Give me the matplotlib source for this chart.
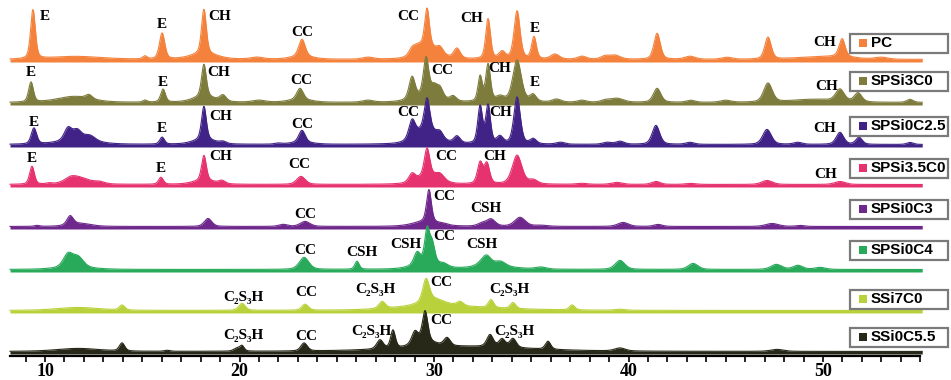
"""Stacked XRD patterns of the cement pastes with phase markers."""

import matplotlib

matplotlib.use("Agg")
import matplotlib.pyplot as plt  # noqa: E402
import numpy as np  # noqa: E402
from matplotlib.patches import Rectangle  # noqa: E402
from matplotlib.ticker import FixedLocator  # noqa: E402

# sample names, top to bottom
SAMPLES = ["PC", "SPSi3C0", "SPSi0C2.5", "SPSi3.5C0", "SPSi0C3", "SPSi0C4", "SSi7C0", "SSi0C5.5"]
COLORS = ["#F5823C", "#7D7C3C", "#412387", "#E6326E", "#6E288C", "#28AA5A", "#B9D23C", "#282819"]

# reflections per sample: (2theta, net intensity, FWHM)
PEAKS_PC = [
    (9.38, 49, 0.22), (11.6, 3, 2.4), (15.14, 3, 0.2), (16.02, 26, 0.25),
    (18.17, 44, 0.22), (18.17, 6, 1.2), (20.9, 2, 0.6), (23.21, 17, 0.3), (23.2, 3, 1.0),
    (26.6, 2, 0.5), (28.87, 6, 0.3), (29.18, 6, 0.4), (29.64, 38, 0.22), (29.7, 12, 1.0),
    (30.31, 6, 0.3), (31.18, 10, 0.3), (32.78, 40, 0.22), (33.5, 7, 0.3), (34.27, 48, 0.28),
    (35.14, 22, 0.22), (36.22, 5, 0.4), (37.61, 3, 0.4), (38.79, 3, 0.4), (39.3, 4, 0.5),
    (41.47, 26, 0.3), (43.16, 3, 0.5), (45.06, 2, 0.5), (47.17, 22, 0.3), (49.5, 2, 2.0),
    (50.98, 18, 0.28), (50.9, 2, 1.5), (53.0, 2, 0.6),
]
PEAKS_SPSI3C0 = [
    (9.28, 20, 0.22), (11.5, 6, 1.6), (12.26, 4, 0.3), (15.14, 2, 0.2), (16.07, 13, 0.22),
    (18.17, 32, 0.22), (18.17, 6, 1.0), (19.15, 6, 0.3), (21.0, 2, 0.6), (23.11, 11, 0.3),
    (23.1, 3, 1.0), (26.6, 2, 0.5), (28.87, 22, 0.28), (29.59, 38, 0.25), (29.6, 6, 1.2),
    (30.0, 10, 0.3), (30.31, 10, 0.3), (30.98, 5, 0.3), (32.37, 25, 0.2), (32.78, 37, 0.22),
    (33.4, 5, 0.4), (34.27, 42, 0.4), (35.09, 7, 0.3), (36.3, 3, 0.4), (37.6, 2, 0.4),
    (38.8, 2, 0.4), (39.4, 4, 0.6), (41.47, 14, 0.35), (43.2, 2, 0.4), (45.0, 2, 0.5),
    (47.17, 19, 0.4), (49.5, 3, 2.0), (50.87, 12, 0.4), (51.8, 9, 0.35), (54.47, 3, 0.3),
]
PEAKS_SPSI0C25 = [
    (9.43, 16, 0.25), (11.18, 12, 0.35), (11.65, 9, 0.4), (12.3, 5, 0.5), (11.7, 5, 1.6),
    (16.02, 7, 0.22), (18.17, 33, 0.22), (18.17, 5, 1.0), (19.15, 2, 0.3), (21.98, 1, 0.3),
    (23.21, 12, 0.3), (23.2, 2, 1.0), (28.87, 18, 0.3), (29.64, 30, 0.25), (29.6, 16, 1.0),
    (30.31, 6, 0.3), (31.18, 7, 0.3), (32.37, 37, 0.22), (32.78, 38, 0.22), (33.39, 7, 0.3),
    (34.27, 47, 0.3), (35.1, 5, 0.3), (36.5, 2, 0.4), (38.89, 2, 0.4), (39.56, 3, 0.4),
    (41.41, 19, 0.35), (43.16, 2, 0.4), (47.12, 15, 0.4), (48.7, 2, 0.4), (50.87, 12, 0.35),
    (51.85, 7, 0.3), (54.47, 2, 0.3),
]
PEAKS_SPSI35C0 = [
    (9.33, 18, 0.22), (10.21, 1, 0.25), (11.7, 7, 1.0), (11.3, 3, 0.5), (12.8, 2, 0.5),
    (15.96, 7, 0.22), (18.17, 25, 0.22), (18.17, 4, 1.0), (19.1, 3, 0.3), (23.16, 8, 0.4),
    (28.87, 8, 0.3), (29.64, 27, 0.25), (29.7, 9, 1.0), (30.31, 6, 0.4), (32.37, 21, 0.25),
    (32.72, 20, 0.25), (34.27, 29, 0.45), (35.1, 4, 0.4), (37.6, 1, 0.5), (39.4, 2, 0.5),
    (41.41, 3, 0.4), (43.2, 1, 0.5), (47.12, 4, 0.5), (50.87, 3, 0.5),
]
PEAKS_SPSI0C3 = [
    (9.59, 1, 0.25), (11.29, 9, 0.3), (11.8, 3, 1.0), (18.38, 8, 0.35), (22.24, 2, 0.4),
    (23.37, 5, 0.45), (29.74, 32, 0.22), (29.6, 5, 1.2), (30.5, 1, 0.4), (32.47, 3, 0.4),
    (32.93, 7, 0.4), (34.42, 9, 0.5), (35.5, 1, 0.6), (39.72, 4, 0.5), (41.52, 2, 0.4),
    (47.38, 3, 0.6), (48.82, 1, 0.4),
]
PEAKS_SPSI0C4 = [
    (11.18, 13, 0.45), (11.7, 10, 0.5), (11.5, 2, 1.6), (23.32, 12, 0.45), (26.04, 8, 0.2),
    (29.13, 12, 0.3), (29.64, 32, 0.22), (29.9, 20, 0.25), (29.6, 6, 1.2), (30.5, 3, 0.4),
    (32.5, 4, 0.5), (32.72, 8, 0.4), (33.4, 5, 0.5), (33.0, 3, 2.0), (35.5, 2, 0.5),
    (39.56, 9, 0.45), (43.32, 6, 0.45), (47.6, 5, 0.5), (48.71, 4, 0.45), (49.85, 2, 0.5),
]
PEAKS_SSI7C0 = [
    (11.7, 3, 2.0), (13.96, 5, 0.25), (20.13, 7, 0.3), (23.37, 6, 0.3), (27.33, 7, 0.3),
    (29.59, 22, 0.3), (29.95, 6, 1.0), (29.8, 4, 3.0), (31.34, 4, 0.3), (32.93, 8, 0.25),
    (34.06, 6, 0.25), (37.1, 5, 0.25), (39.56, 1, 0.5), (32.0, 2, 5.0),
]
PEAKS_SSI0C55 = [
    (11.7, 3, 2.0), (13.96, 8, 0.25), (16.27, 1, 0.25), (19.87, 3, 0.3), (20.13, 5, 0.2),
    (23.32, 8, 0.3), (27.22, 9, 0.3), (27.89, 18, 0.22), (29.02, 12, 0.3), (29.54, 30, 0.25),
    (29.5, 6, 1.0), (30.67, 8, 0.3), (32.88, 12, 0.3), (33.5, 8, 0.3), (34.06, 9, 0.3),
    (35.86, 8, 0.25), (31.5, 5, 6.0), (39.56, 3, 0.5), (47.63, 2, 0.6),
]
PEAKS = [PEAKS_PC, PEAKS_SPSI3C0, PEAKS_SPSI0C25, PEAKS_SPSI35C0,
         PEAKS_SPSI0C3, PEAKS_SPSI0C4, PEAKS_SSI7C0, PEAKS_SSI0C55]

# vertical offset of each pattern (a.u.)
OFFSETS = [294, 251, 209, 169, 127, 84, 43, 2]
BACKGROUND = 2.5
# pseudo-Voigt mixing and instrumental broadening
ETA = 0.4
BROADENING = 1.3

# phase markers: (sample index, label, 2theta, height above baseline)
C2S3H = "C\u2082S\u2083H"
MARKERS = [
    (0, "E", 10.0, 45), (0, "E", 16.02, 38), (0, "CH", 19.0, 45), (0, "CC", 23.21, 29),
    (0, "CC", 28.66, 45), (0, "CH", 31.95, 43), (0, "E", 35.19, 33), (0, "CH", 50.1, 19),
    (1, "E", 9.28, 32), (1, "E", 16.07, 23), (1, "CH", 18.95, 33), (1, "CC", 23.16, 25),
    (1, "CC", 30.41, 34), (1, "CH", 33.39, 36), (1, "E", 35.19, 22), (1, "CH", 50.2, 18),
    (2, "E", 9.43, 25), (2, "E", 16.02, 19), (2, "CH", 19.05, 30), (2, "CC", 23.21, 22),
    (2, "CC", 28.66, 35), (2, "CH", 33.44, 34), (2, "CH", 50.1, 19),
    (3, "E", 9.33, 28), (3, "E", 15.96, 19), (3, "CH", 19.05, 30), (3, "CC", 23.06, 22),
    (3, "CC", 30.62, 31), (3, "CH", 33.14, 31), (3, "CH", 50.15, 12),
    (4, "CC", 23.37, 15), (4, "CC", 30.51, 32), (4, "CSH", 32.67, 21),
    (5, "CC", 23.37, 22), (5, "CSH", 26.3, 20), (5, "CSH", 28.56, 27), (5, "CC", 30.51, 35),
    (5, "CSH", 32.47, 27),
    (6, C2S3H, 20.18, 16), (6, "CC", 23.42, 21), (6, C2S3H, 26.97, 24), (6, "CC", 30.36, 31),
    (6, C2S3H, 33.9, 23),
    (7, C2S3H, 20.18, 18), (7, "CC", 23.42, 18), (7, C2S3H, 26.76, 22), (7, "CC", 30.36, 33),
    (7, C2S3H, 34.11, 23),
]

# key box height above each baseline
KEY_LIFT = [19, 24, 21, 19, 20, 22, 14, 17]

SERIF = ["Liberation Serif", "DejaVu Serif"]
SANS = ["Liberation Sans", "DejaVu Sans"]


def pattern(tt, peaks):
    y = np.full_like(tt, BACKGROUND)
    for pos, height, fwhm in peaks:
        w = fwhm * BROADENING
        gauss = np.exp(-4 * np.log(2) * ((tt - pos) / w) ** 2)
        lorentz = 1 / (1 + 4 * ((tt - pos) / w) ** 2)
        y += height * ((1 - ETA) * gauss + ETA * lorentz)
    return y


def main():
    fig = plt.figure(figsize=(9.51, 3.80), dpi=100)
    ax = fig.add_axes([0, 24 / 380, 1, 356 / 380])

    tt = np.arange(8.2, 55.1, 0.01)
    for peaks, off, color in zip(PEAKS, OFFSETS, COLORS):
        y = off + pattern(tt, peaks)
        ax.fill_between(tt, off, y, color=color, lw=0)
        ax.plot(tt, y, color=color, lw=0.8)

    for idx, label, x, h in MARKERS:
        ax.text(x, OFFSETS[idx] + h, label, ha="center", va="center", fontsize=11,
                fontweight="bold", family=SERIF, zorder=4)

    # sample key boxes on the right
    deg_per_px = 1 / 19.45
    box_x0, box_x1 = 51.39, 56.45
    for name, color, off, lift in zip(SAMPLES, COLORS, OFFSETS, KEY_LIFT):
        yc = off + lift
        ax.add_patch(Rectangle((box_x0, yc - 9.5), box_x1 - box_x0, 19, facecolor="white",
                               edgecolor="#7a7a7a", lw=1.6, zorder=5, clip_on=False))
        sq = 8
        ax.add_patch(Rectangle((box_x0 + 9 * deg_per_px, yc - sq / 2), sq * deg_per_px, sq,
                               facecolor=color, lw=0, zorder=6))
        ax.text(box_x0 + 21 * deg_per_px, yc, name, ha="left", va="center", fontsize=11,
                fontweight="bold", family=SANS, zorder=6)

    ax.set_xlim(7.686, 56.58)
    ax.set_ylim(0, 356)
    for side in ("left", "right", "top"):
        ax.spines[side].set_visible(False)
    ax.spines["bottom"].set_bounds(8.2, 55.0)
    ax.spines["bottom"].set_linewidth(1.6)
    ax.set_yticks([])
    ax.xaxis.set_major_locator(FixedLocator([10, 20, 30, 40, 50]))
    ax.xaxis.set_minor_locator(FixedLocator([v for v in range(9, 56) if v % 10]))
    ax.tick_params(axis="x", which="both", direction="out", length=4, width=1.2, pad=1)
    for lab in ax.get_xticklabels():
        lab.set_family(SERIF)
        lab.set_fontweight("bold")
        lab.set_fontsize(13)

    fig.savefig("out.png", dpi=100)
    plt.close(fig)


if __name__ == "__main__":
    main()
